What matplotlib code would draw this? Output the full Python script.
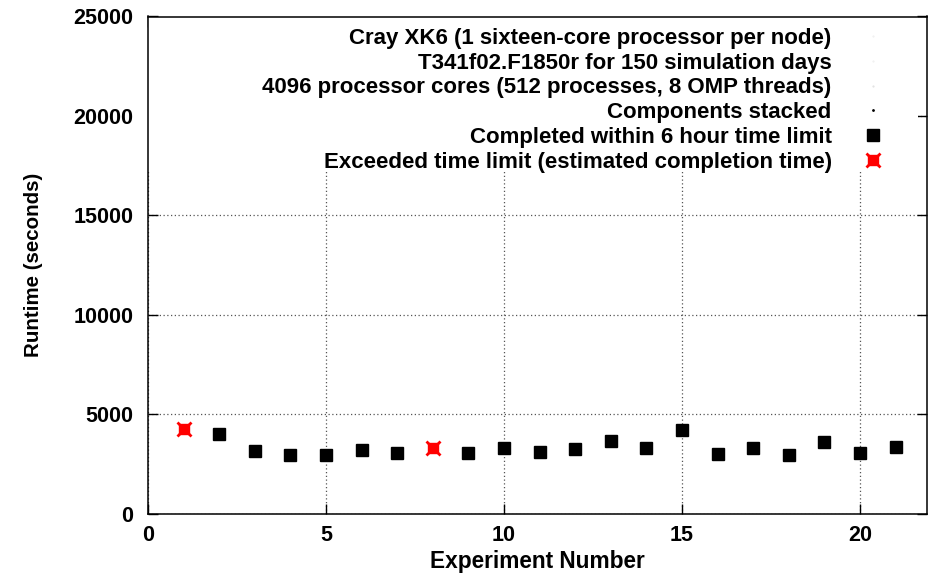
import matplotlib
matplotlib.use("Agg")
import matplotlib.pyplot as plt
from matplotlib.lines import Line2D
from matplotlib.patches import Rectangle

# Data
experiments = list(range(1, 22))
runtimes = [4250, 4015, 3150, 2950, 2950, 3217, 3067, 3317, 3067, 3317, 3117,
            3267, 3667, 3317, 4217, 3017, 3317, 2967, 3600, 3067, 3367]
exceeded = [1, 8]  # experiment numbers that exceeded the time limit

info_lines = [
    "Cray XK6 (1 sixteen-core processor per node)",
    "T341f02.F1850r for 150 simulation days",
    "4096 processor cores (512 processes, 8 OMP threads)",
    "Components stacked",
]
label_ok = "Completed within 6 hour time limit"
label_exc = "Exceeded time limit (estimated completion time)"

x_ok = [e for e in experiments if e not in exceeded]
y_ok = [r for e, r in zip(experiments, runtimes) if e not in exceeded]
x_ex = [e for e in experiments if e in exceeded]
y_ex = [r for e, r in zip(experiments, runtimes) if e in exceeded]

plt.rcParams['font.family'] = ['Liberation Sans', 'DejaVu Sans']
plt.rcParams['font.weight'] = 'bold'
FS_TICK = 15.5
FS_LEG = 16
FS_XLAB = 16.3
FS_YLAB = 14.8

fig = plt.figure(figsize=(9.32, 5.74), dpi=100)
ax = fig.add_axes([148 / 932, 1 - 513.5 / 574, (927 - 148) / 932, (513.5 - 16.5) / 574])

ax.plot(x_ok, y_ok, linestyle='none', marker='s', markersize=8.2, color='black', zorder=3)
ax.plot(x_ex, y_ex, linestyle='none', marker='s', markersize=7.6, color='red', zorder=3)
ax.plot(x_ex, y_ex, linestyle='none', marker='x', markersize=10.0, markeredgewidth=2.0,
        color='red', zorder=3)

ax.set_xlim(0, 21.88)
ax.set_ylim(0, 25000)
ax.set_xticks([0, 5, 10, 15, 20])
ax.set_yticks([0, 5000, 10000, 15000, 20000, 25000])
ax.tick_params(direction='in', length=7, width=1, top=True, right=True,
               labelsize=FS_TICK)
ax.tick_params(axis='y', pad=10.5)
ax.tick_params(axis='x', pad=8)
for lab in ax.get_xticklabels() + ax.get_yticklabels():
    lab.set_fontweight('bold')
ax.grid(True, linestyle=(0, (1, 2)), color='#555555', linewidth=0.9)
ax.set_axisbelow(True)
for s in ax.spines.values():
    s.set_linewidth(1.1)

# white key area hiding the grid behind the legend (as in the original)
ax.add_patch(Rectangle((0, 0.691), 0.988, 0.309, transform=ax.transAxes,
                       facecolor='white', edgecolor='none', zorder=1))

ax.set_xlabel("Experiment Number", fontsize=FS_XLAB, fontweight='bold')
ax.xaxis.set_label_coords(0.5, -0.073)
ax.set_ylabel("Runtime (seconds)", fontsize=FS_YLAB, fontweight='bold')
ax.yaxis.set_label_coords(-0.135, 0.5)

ok_handle = Line2D([], [], linestyle='none', marker='s', markersize=8.2, color='black')
ex_sq = Line2D([], [], linestyle='none', marker='s', markersize=7.6, color='red')
ex_x = Line2D([], [], linestyle='none', marker='x', markersize=10.0,
              markeredgewidth=2.0, color='red')
handles = [
    Line2D([], [], linestyle='none', marker='.', markersize=1, color='#eeeeee'),
    Line2D([], [], linestyle='none', marker='.', markersize=1, color='#eeeeee'),
    Line2D([], [], linestyle='none', marker='.', markersize=1, color='#dddddd'),
    Line2D([], [], linestyle='none', marker='.', markersize=2, color='black'),
    ok_handle,
    (ex_sq, ex_x),
]
labels = info_lines + [label_ok, label_exc]
leg = ax.legend(handles, labels, loc='upper right', markerfirst=False,
                frameon=False,
                prop={'size': FS_LEG, 'weight': 'bold'}, labelspacing=0.17,
                handletextpad=1.25, borderaxespad=0.0, handlelength=1.2,
                bbox_to_anchor=(0.959, 0.995))
for t in leg.get_texts():
    t.set_ha('right')
leg._legend_box.align = 'right'
leg.set_zorder(5)

fig.savefig("out.png", dpi=100)
